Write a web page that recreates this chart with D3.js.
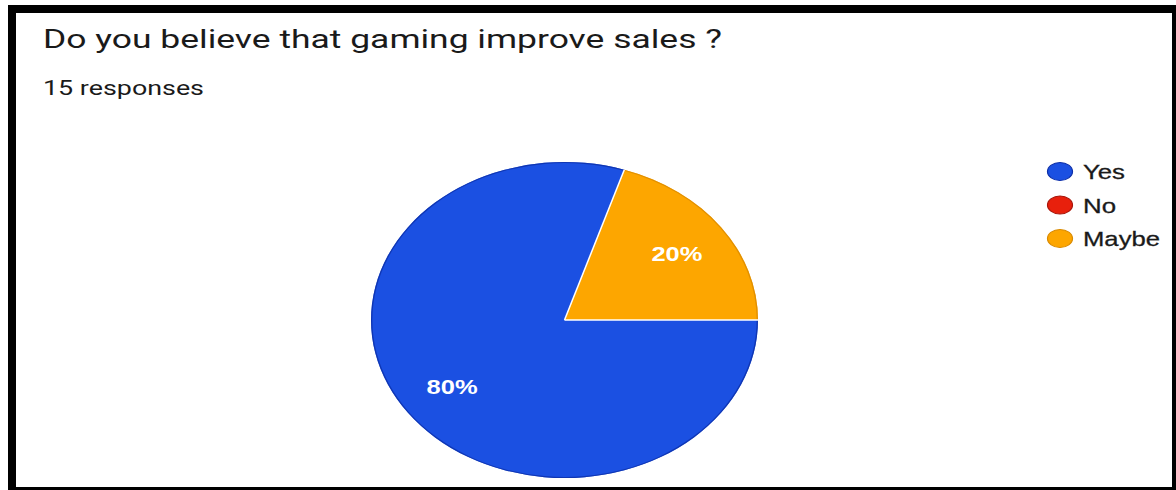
<!DOCTYPE html>
<html>
<head>
<meta charset="utf-8">
<script src="https://cdn.jsdelivr.net/npm/d3@7"></script>
<style>
  html, body { margin: 0; padding: 0; background: #fff; }
  svg { display: block; }
</style>
</head>
<body>
<svg id="chart" width="1176" height="490"></svg>
<script>
// Survey question and answers
const title = "Do you believe that gaming improve sales ?";
const subtitle = "15 responses";
const categories = ["Yes", "No", "Maybe"];
const responses = [12, 0, 3];          // 15 responses in total
const percentLabels = ["80%", "0%", "20%"];
const colors = ["#1b50e2", "#e8200c", "#fda600"];
const edgeColors = ["#0d2fa8", "#a8150a", "#d98a00"];

const W = 1176, H = 490;
const svg = d3.select("#chart");

// White page with a heavy black frame
svg.append("rect").attr("width", W).attr("height", H).attr("fill", "#fff");
const frame = svg.append("g").attr("fill", "#000");
frame.append("rect").attr("x", 8).attr("y", 5).attr("width", W - 8).attr("height", 8);
frame.append("rect").attr("x", 8).attr("y", 5).attr("width", 8).attr("height", H - 5);
frame.append("rect").attr("x", 1172).attr("y", 5).attr("width", 4).attr("height", H - 5);
frame.append("rect").attr("x", 8).attr("y", 487).attr("width", W - 8).attr("height", 3);

const font = "'Liberation Sans', Arial, sans-serif";

// Heading
svg.append("text")
  .attr("x", 43).attr("y", 48)
  .attr("font-family", "Roboto, " + font)
  .attr("font-size", 25)
  .attr("fill", "#1a1a1a")
  .attr("textLength", 679)
  .attr("lengthAdjust", "spacingAndGlyphs")
  .text(title);

svg.append("text")
  .attr("x", 43).attr("y", 95)
  .attr("font-family", "Roboto, " + font)
  .attr("font-size", 20)
  .attr("fill", "#1a1a1a")
  .attr("textLength", 161)
  .attr("lengthAdjust", "spacingAndGlyphs")
  .text(subtitle);

// Pie, drawn as a horizontally stretched disc
const cx = 564.5, cy = 320, r = 158, sx = 1.2247;
const data = categories.map((c, i) => ({ name: c, value: responses[i], label: percentLabels[i], color: colors[i], edge: edgeColors[i] }));

const pie = d3.pie()
  .value(d => d.value)
  .sort(null)
  .startAngle(Math.PI / 2)
  .endAngle(Math.PI / 2 + 2 * Math.PI);
const arcs = pie(data).filter(d => d.data.value > 0);

const labelArc = d3.arc().innerRadius(r * 0.718).outerRadius(r * 0.718);

const pieG = svg.append("g").attr("transform", `translate(${cx},${cy}) scale(${sx},1)`);

// slice fills
pieG.selectAll("path.slice")
  .data(arcs)
  .join("path")
  .attr("class", "slice")
  .attr("d", d3.arc().innerRadius(0).outerRadius(r))
  .attr("fill", d => d.data.color);

// thin darker rim around each slice's outer edge
pieG.selectAll("path.rim")
  .data(arcs)
  .join("path")
  .attr("class", "rim")
  .attr("d", d3.arc().innerRadius(r - 1.1).outerRadius(r))
  .attr("fill", d => d.data.edge)
  .attr("opacity", 0.8);

// white separators between slices
pieG.selectAll("line.sep")
  .data(arcs)
  .join("line")
  .attr("class", "sep")
  .attr("x1", 0).attr("y1", 0)
  .attr("x2", d => r * Math.sin(d.startAngle))
  .attr("y2", d => -r * Math.cos(d.startAngle))
  .attr("stroke", "#fff")
  .attr("stroke-width", 1.5)
  .attr("vector-effect", "non-scaling-stroke");

// Percentage labels inside the slices
svg.append("g").selectAll("text")
  .data(arcs)
  .join("text")
  .attr("x", d => cx + labelArc.centroid(d)[0] * sx)
  .attr("y", d => cy + labelArc.centroid(d)[1] + 7.5)
  .attr("text-anchor", "middle")
  .attr("font-family", font)
  .attr("font-weight", "bold")
  .attr("font-size", 21)
  .attr("fill", "#fff")
  .attr("textLength", 51)
  .attr("lengthAdjust", "spacingAndGlyphs")
  .text(d => d.data.label);

// Legend
const legend = svg.append("g").attr("transform", "translate(1060,171.5)");
const item = legend.selectAll("g")
  .data(data)
  .join("g")
  .attr("transform", (d, i) => `translate(0,${i * 33.5})`);

item.append("ellipse")
  .attr("rx", 12.5).attr("ry", 9)
  .attr("fill", d => d.color)
  .attr("stroke", d => d.edge)
  .attr("stroke-width", 1.2);

const legendWidths = { Yes: 42, No: 33, Maybe: 77 };
item.append("text")
  .attr("x", 23).attr("y", 7.5)
  .attr("font-family", font)
  .attr("font-size", 21)
  .attr("fill", "#1a1a1a")
  .attr("stroke", "#1a1a1a")
  .attr("stroke-width", 0.3)
  .attr("textLength", d => legendWidths[d.name])
  .attr("lengthAdjust", "spacingAndGlyphs")
  .text(d => d.name);
</script>
</body>
</html>
